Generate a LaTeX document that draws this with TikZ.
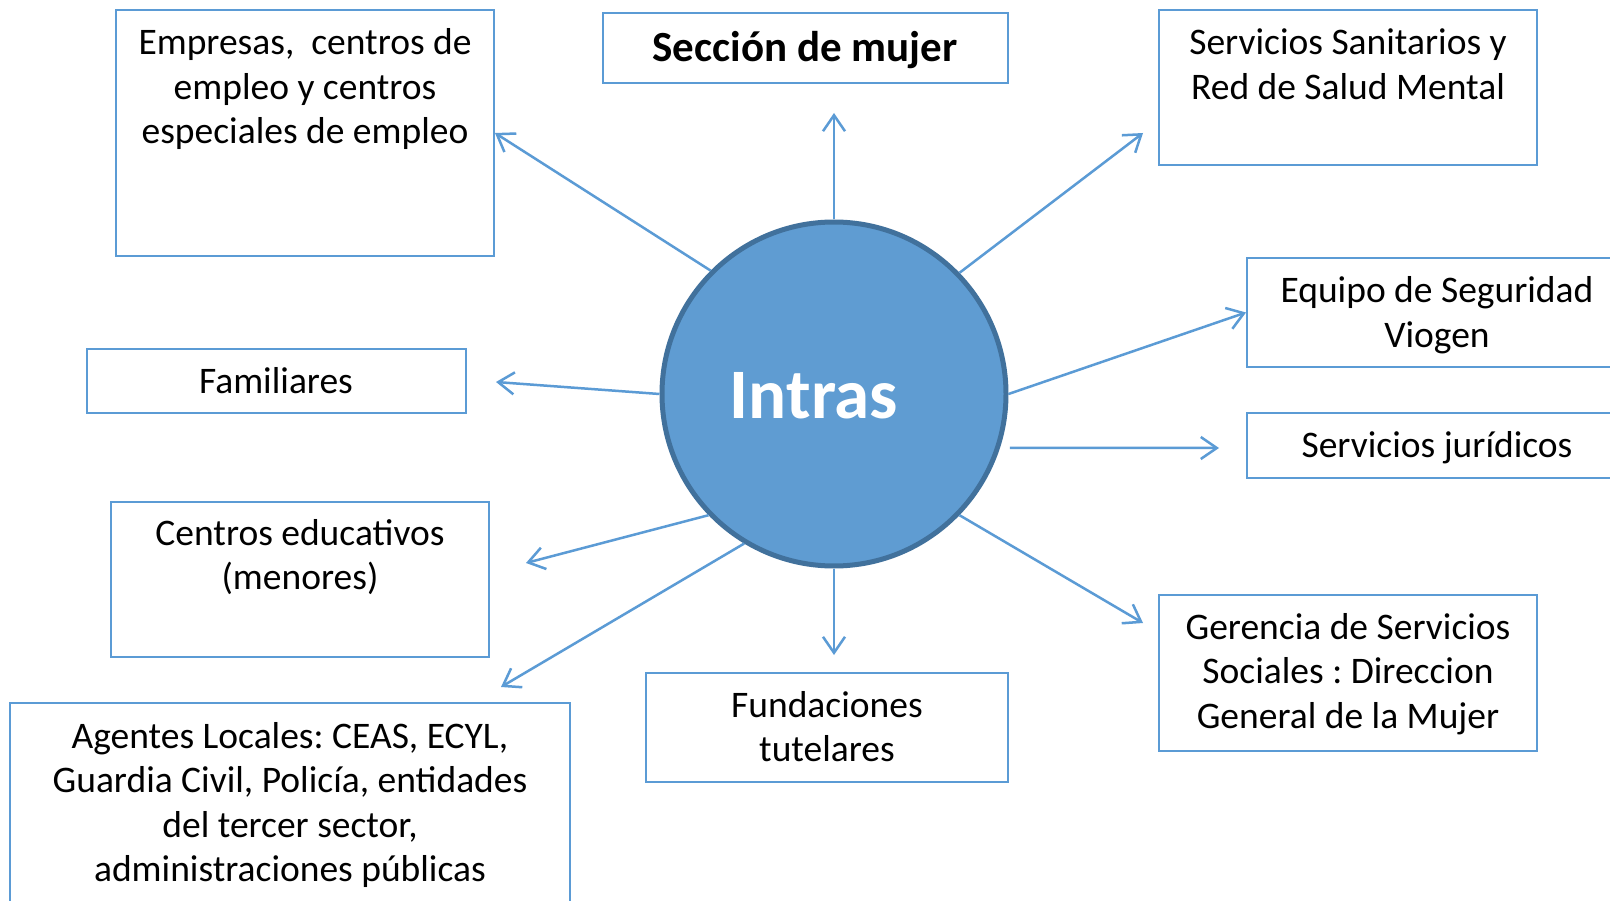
\documentclass[tikz,border=0pt]{standalone}
\usepackage{fontspec}
\setmainfont{Carlito}
\usetikzlibrary{arrows.meta}
\definecolor{boxblue}{HTML}{5B9BD5}
\definecolor{circfill}{HTML}{5F9CD2}
\definecolor{circedge}{HTML}{41719C}
\tikzset{
  rbox/.style={draw=boxblue, line width=2pt, rectangle, inner sep=0pt, fill=none},
  lbl/.style={font=\fontsize{37.5}{44.5}\selectfont, align=flush center, text width=560pt, inner sep=0pt, anchor=base, text=black},
  conn/.style={draw=boxblue, line width=2.5pt, -{Straight Barb[length=16pt,width=22pt,line width=2.5pt]}},
}
\frenchspacing
\begin{document}
\frenchspacing
\begin{tikzpicture}[x=1pt,y=-1pt]
\clip (0,0) rectangle (1610,901);
\fill[white] (0,0) rectangle (1610,901);

% boxes
\node[rbox, minimum width=378pt, minimum height=246pt] (emp) at (305,133) {};
\node[rbox, minimum width=405pt, minimum height=70pt] (sec) at (805.5,48) {};
\node[rbox, minimum width=378pt, minimum height=155pt] (san) at (1348,87.5) {};
\node[rbox, minimum width=379pt, minimum height=109pt] (eq) at (1436.5,312.5) {};
\node[rbox, minimum width=379pt, minimum height=65pt] (jur) at (1436.5,445.5) {};
\node[rbox, minimum width=379pt, minimum height=64pt] (fam) at (276.5,381) {};
\node[rbox, minimum width=378pt, minimum height=155pt] (cen) at (300,579.5) {};
\node[rbox, minimum width=560pt, minimum height=240pt] (age) at (290,823) {};
\node[rbox, minimum width=362pt, minimum height=109pt] (fun) at (827,727.5) {};
\node[rbox, minimum width=378pt, minimum height=156pt] (ger) at (1348,673) {};

% texts
\node[lbl] (emp-t) at (305,55) {Empresas,\ \ centros de\\empleo y centros\\especiales de empleo};
\node[lbl, font=\fontsize{43}{50}\selectfont\bfseries] (sec-t) at (805,62) {Sección de mujer};
\node[lbl] (san-t) at (1348,55) {Servicios Sanitarios y\\Red de Salud Mental};
\node[lbl] (eq-t) at (1437,303) {Equipo de Seguridad\\Viogen};
\node[lbl] (jur-t) at (1437,457) {Servicios jurídicos};
\node[lbl] (fam-t) at (276,393) {Familiares};
\node[lbl] (cen-t) at (300,545) {Centros educativos\\(menores)};
\node[lbl] (age-t) at (290,748) {Agentes Locales: CEAS, ECYL,\\Guardia Civil, Policía, entidades\\del tercer sector,\\administraciones públicas};
\node[lbl] (fun-t) at (827,717) {Fundaciones\\tutelares};
\node[lbl] (ger-t) at (1348,639) {Gerencia de Servicios\\Sociales : Direccion\\General de la Mujer};

% centre
\node[circle, fill=circfill, draw=circedge, line width=5pt, minimum size=344pt, inner sep=0pt] (c) at (834,394) {};
\node[font=\fontsize{71}{80}\selectfont\bfseries, text=white, anchor=base, inner sep=0pt] (c-t) at (814,418) {Intras};

% free ends
\coordinate (tS) at (834,113);
\coordinate (tSan) at (1143,133);
\coordinate (tJ) at (1219,448);
\coordinate (tF) at (496,382);
\coordinate (tC) at (526,563);
\coordinate (tA) at (501,687);
\coordinate (tFu) at (834,655);
\coordinate (tG) at (1143,623);

% connectors
\draw[conn] (c.135.5) -- (emp.east);
\draw[conn] (c.90) -- (tS);
\draw[conn] (c.44.5) -- (tSan);
\draw[conn] (c.0.7) -- (eq.west);
\draw[conn] ([xshift=10pt]c.-18) -- (tJ);
\draw[conn] (c.180) -- (tF);
\draw[conn] (c.224) -- (tC);
\draw[conn] (c.239) -- (tA);
\draw[conn] (c.270) -- (tFu);
\draw[conn] (c.-44) -- (tG);
\end{tikzpicture}
\end{document}
